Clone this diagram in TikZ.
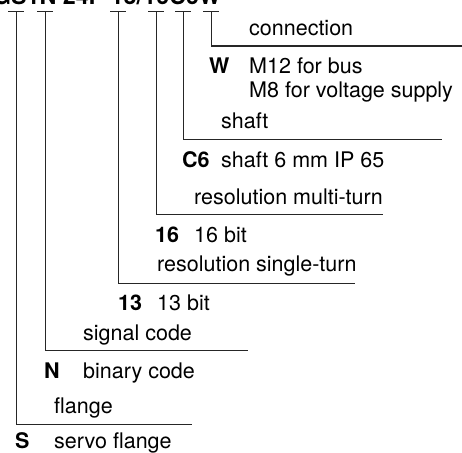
\documentclass[tikz,border=0pt]{standalone}
\usepackage{fontspec}
\setmainfont{TeX Gyre Heros}
\begin{document}
\begin{tikzpicture}[x=1pt,y=-1pt,
  conn/.style={draw=black!85,line width=1pt},
  txt/.style={anchor=base west,inner sep=0pt,font=\fontsize{21.5pt}{25pt}\selectfont},
  code/.style={anchor=base west,inner sep=0pt,font=\fontsize{21.5pt}{25pt}\selectfont\bfseries}]
\useasboundingbox (0,0) rectangle (462,452);
% cut-off type designation at the top
\node[anchor=base east,inner sep=0pt,font=\fontsize{23.3pt}{27pt}\selectfont\bfseries] (title) at (221,4.5) {GS1N 24P 13/16C6W};
% tick points and bracket ends
\coordinate (tS) at (16,12);   \coordinate (eS) at (192,424);
\coordinate (tN) at (45,12);   \coordinate (eN) at (248,350);
\coordinate (t13) at (118,12); \coordinate (e13) at (355,283);
\coordinate (t16) at (156,12); \coordinate (e16) at (383,214);
\coordinate (tC) at (183,12);  \coordinate (eC) at (442,139);
\coordinate (tW) at (211,12);  \coordinate (eW) at (463,46);
\foreach \t/\e in {tS/eS,tN/eN,t13/e13,t16/e16,tC/eC,tW/eW}{
  \draw[conn] (\t) ++(-8,0) -- ++(16,0);
  \draw[conn] (\t) |- (\e);
}
% W group
\node[txt] (hW) at (249,35) {connection};
\node[code] (cW) at (209,73) {W};
\node[txt] (dW1) at (249,73) {M12 for bus};
\node[txt] (dW2) at (249,97) {M8 for voltage supply};
% C6 group
\node[txt] (hC) at (221,128) {shaft};
\node[code] (cC) at (182,167) {C6};
\node[txt] (dC) at (221,167) {shaft 6 mm IP 65};
% 16 group
\node[txt] (h16) at (194,204) {resolution multi-turn};
\node[code] (c16) at (155,242) {16};
\node[txt] (d16) at (194,242) {16 bit};
% 13 group
\node[txt] (h13) at (157,271) {resolution single-turn};
\node[code] (c13) at (118,310) {13};
\node[txt] (d13) at (157,310) {13 bit};
% N group
\node[txt] (hN) at (83,340) {signal code};
\node[code] (cN) at (44,378) {N};
\node[txt] (dN) at (83,378) {binary code};
% S group
\node[txt] (hS) at (54,413) {flange};
\node[code] (cS) at (15,448) {S};
\node[txt] (dS) at (54,448) {servo flange};
\end{tikzpicture}
\end{document}
